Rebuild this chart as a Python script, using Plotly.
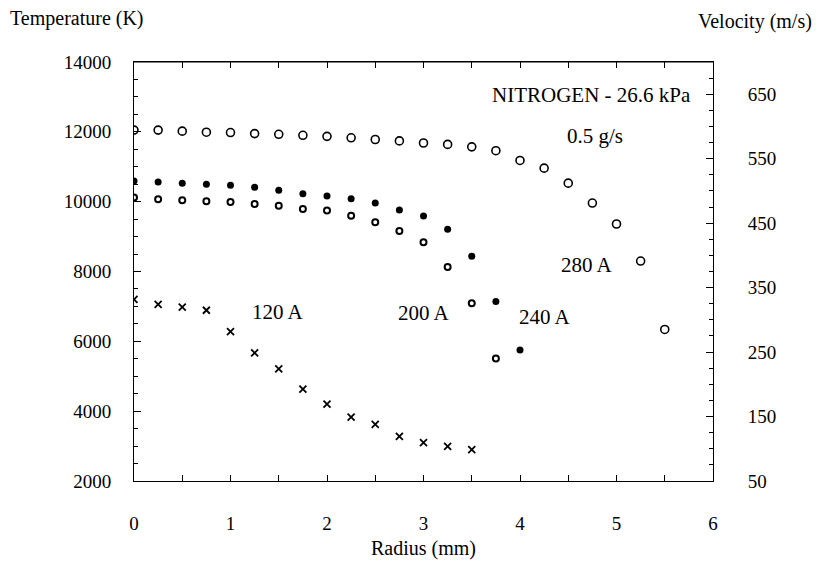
import plotly.graph_objects as go

# Radius positions (mm) and temperatures (K)
r_120 = [0, 0.25, 0.5, 0.75, 1.0, 1.25, 1.5, 1.75, 2.0, 2.25, 2.5, 2.75, 3.0, 3.25, 3.5]
t_120 = [7200, 7060, 6980, 6890, 6280, 5670, 5210, 4630, 4200, 3830, 3620, 3280, 3100, 2990, 2900]

r_200 = [0, 0.25, 0.5, 0.75, 1.0, 1.25, 1.5, 1.75, 2.0, 2.25, 2.5, 2.75, 3.0, 3.25, 3.5, 3.75]
t_200 = [10120, 10070, 10040, 10010, 9990, 9930, 9880, 9790, 9750, 9600, 9410, 9160, 8840, 8130, 7090, 5510]

r_240 = [0, 0.25, 0.5, 0.75, 1.0, 1.25, 1.5, 1.75, 2.0, 2.25, 2.5, 2.75, 3.0, 3.25, 3.5, 3.75, 4.0]
t_240 = [10590, 10560, 10530, 10500, 10470, 10410, 10330, 10230, 10160, 10080, 9960, 9760, 9590, 9210, 8440, 7140, 5750]

r_280 = [0, 0.25, 0.5, 0.75, 1.0, 1.25, 1.5, 1.75, 2.0, 2.25, 2.5, 2.75, 3.0, 3.25, 3.5, 3.75,
         4.0, 4.25, 4.5, 4.75, 5.0, 5.25, 5.5]
t_280 = [12050, 12050, 12020, 11990, 11980, 11950, 11930, 11900, 11870, 11830, 11780, 11740, 11680,
         11640, 11570, 11460, 11180, 10960, 10530, 9960, 9360, 8300, 6340]

temp_ticks = [2000, 4000, 6000, 8000, 10000, 12000, 14000]
temp_labels = ["2000", "4000", "6000", "8000", "10000", "12000", "14000"]
vel_ticks = [50, 150, 250, 350, 450, 550, 650]
vel_labels = ["50", "150", "250", "350", "450", "550", "650"]
radius_ticks = [0, 1, 2, 3, 4, 5, 6]

FONT = "Liberation Serif, Times New Roman, serif"
BLACK = "#000000"
W, H = 819, 562
ML, MR, MT, MB = 134, 106, 62, 81

fig = go.Figure()
fig.add_trace(go.Scatter(x=r_120, y=t_120, mode="markers", name="120 A",
                         marker=dict(symbol="x-thin", size=7, line=dict(width=1.8, color=BLACK), color=BLACK)))
fig.add_trace(go.Scatter(x=r_200, y=t_200, mode="markers", name="200 A",
                         marker=dict(symbol="circle-open", size=6, line=dict(width=2, color=BLACK), color=BLACK)))
fig.add_trace(go.Scatter(x=r_240, y=t_240, mode="markers", name="240 A",
                         marker=dict(symbol="circle", size=7, color=BLACK, line=dict(width=0))))
fig.add_trace(go.Scatter(x=r_280, y=t_280, mode="markers", name="280 A",
                         marker=dict(symbol="circle-open", size=8, line=dict(width=1.6, color=BLACK), color=BLACK)))
# velocity axis carrier (no data drawn)
fig.add_trace(go.Scatter(x=[], y=[], yaxis="y2", mode="markers", showlegend=False))

axis_common = dict(showline=True, linecolor=BLACK, linewidth=1, ticks="inside", tickcolor=BLACK,
                   tickwidth=1, showgrid=False, zeroline=False, automargin=False,
                   tickfont=dict(family=FONT, size=19, color=BLACK))

fig.update_layout(
    width=W, height=H,
    margin=dict(l=ML, r=MR, t=MT, b=MB),
    paper_bgcolor="white", plot_bgcolor="white",
    showlegend=False,
    font=dict(family=FONT, size=19, color=BLACK),
    xaxis=dict(range=[0, 6], tickvals=radius_ticks, ticklen=6, mirror="allticks",
               minor=dict(dtick=0.5, ticklen=3, ticks="inside", tickcolor=BLACK),
               ticklabelstandoff=25, **axis_common),
    yaxis=dict(range=[2000, 14000], tickvals=temp_ticks, ticktext=temp_labels, ticklen=7,
               minor=dict(dtick=500, ticklen=4, ticks="inside", tickcolor=BLACK),
               ticklabelstandoff=18, **axis_common),
    yaxis2=dict(range=[50, 700], tickvals=vel_ticks, ticktext=vel_labels, overlaying="y", side="right",
                ticklen=7, minor=dict(dtick=25, ticklen=4, ticks="inside", tickcolor=BLACK, tick0=50),
                ticklabelstandoff=30, **axis_common),
)

# top border
fig.add_shape(type="line", xref="paper", yref="paper", x0=0, x1=1, y0=1, y1=1,
              line=dict(color=BLACK, width=1))


def px_to_paper(px, py):
    return (px - ML) / (W - ML - MR), (H - MB - py) / (H - MT - MB)


labels = [
    ("Temperature (K)", 8, 19, "left", 20),
    ("Velocity (m/s)", 814, 21, "right", 20),
    ("Radius (mm)", 423, 548, "center", 20),
    ("NITROGEN - 26.6 kPa", 693, 95, "right", 21),
    ("0.5 g/s", 595, 136, "center", 21),
    ("280 A", 587, 265, "center", 21),
    ("200 A", 424, 313, "center", 21),
    ("240 A", 545, 317, "center", 21),
    ("120 A", 278, 312, "center", 21),
]
for text, px, py, xa, fs in labels:
    xp, yp = px_to_paper(px, py)
    fig.add_annotation(text=text, xref="paper", yref="paper", x=xp, y=yp,
                       xanchor=xa, yanchor="middle", showarrow=False,
                       font=dict(family=FONT, size=fs, color=BLACK))

fig.write_html("out.html", config={"displayModeBar": False},
               post_script="document.body.style.margin='0px';")
